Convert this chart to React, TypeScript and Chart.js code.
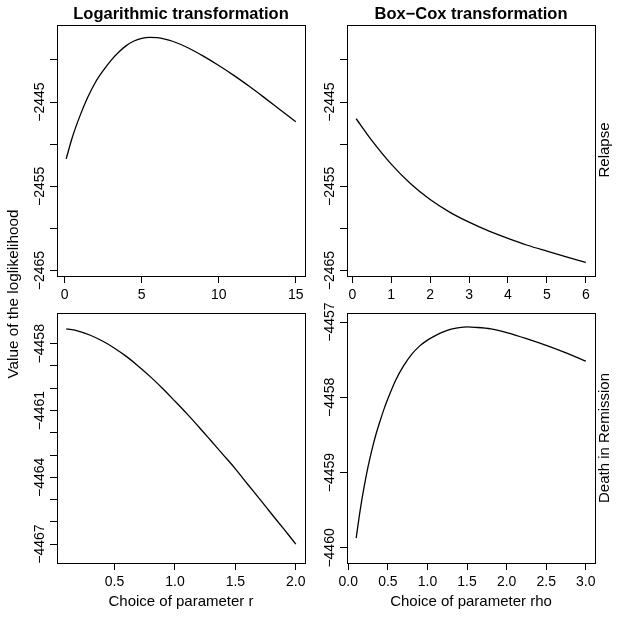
import React, { useEffect, useRef } from "react";
import { Chart, registerables } from "chart.js";

Chart.register(...registerables);

const FONT = "'Liberation Sans', Arial, Helvetica, sans-serif";
const W = 624;
const H = 619;

// ---- Data: Relapse, logarithmic transformation (parameter r) ----
const logRelapseR = [0.1, 0.5, 1, 1.5, 2, 2.5, 3, 3.5, 4, 4.5, 5, 5.5, 6, 6.5, 7, 8, 9, 10, 11, 12, 13, 14, 15];
const logRelapseLL = [
  -2451.75, -2449.18, -2446.61, -2444.43, -2442.65, -2441.27, -2440.08, -2439.09, -2438.3, -2437.75,
  -2437.45, -2437.33, -2437.36, -2437.52, -2437.78, -2438.55, -2439.55, -2440.66, -2441.86, -2443.16,
  -2444.53, -2445.93, -2447.33,
];

// ---- Data: Relapse, Box-Cox transformation (parameter rho) ----
const bcRelapseRho = [0.1, 0.5, 1, 1.5, 2, 2.5, 3, 3.5, 4, 4.5, 5, 5.5, 6];
const bcRelapseLL = [
  -2446.98, -2449.55, -2452.36, -2454.69, -2456.57, -2458.06, -2459.26, -2460.3, -2461.19, -2462.0,
  -2462.7, -2463.38, -2464.04,
];

// ---- Data: Death in Remission, logarithmic transformation (parameter r) ----
const logDeathR = [0.1, 0.2, 0.3, 0.4, 0.5, 0.6, 0.7, 0.8, 0.9, 1.0, 1.1, 1.2, 1.3, 1.4, 1.5, 1.6, 1.7, 1.8, 1.9, 2.0];
const logDeathLL = [
  -4457.33, -4457.43, -4457.62, -4457.88, -4458.2, -4458.58, -4459.02, -4459.5, -4460.02, -4460.58,
  -4461.15, -4461.75, -4462.37, -4462.99, -4463.62, -4464.3, -4464.97, -4465.65, -4466.32, -4467.0,
];

// ---- Data: Death in Remission, Box-Cox transformation (parameter rho) ----
const bcDeathRho = [
  0.1, 0.15, 0.2, 0.25, 0.3, 0.35, 0.4, 0.45, 0.5, 0.6, 0.7, 0.8, 0.9, 1.0, 1.1, 1.2, 1.3, 1.4, 1.5, 1.6,
  1.8, 2.0, 2.25, 2.5, 2.75, 3.0,
];
const bcDeathLL = [
  -4459.87, -4459.5, -4459.19, -4458.92, -4458.69, -4458.49, -4458.32, -4458.16, -4458.02, -4457.77,
  -4457.58, -4457.43, -4457.32, -4457.24, -4457.18, -4457.13, -4457.095, -4457.075, -4457.065, -4457.07,
  -4457.09, -4457.14, -4457.22, -4457.31, -4457.41, -4457.52,
];

// ---- Ticks ----
const xTicksLogRelapse = [0, 5, 10, 15];
const xTicksBcRelapse = [0, 1, 2, 3, 4, 5, 6];
const xTicksLogDeath = [0.5, 1.0, 1.5, 2.0];
const xTicksBcDeath = [0, 0.5, 1.0, 1.5, 2.0, 2.5, 3.0];

const yTicksRelapse = [-2440, -2445, -2450, -2455, -2460, -2465];
const yLabelsRelapse = [-2445, -2455, -2465];
const yTicksLogDeath = [-4458, -4459, -4460, -4461, -4462, -4463, -4464, -4465, -4466, -4467];
const yLabelsLogDeath = [-4458, -4461, -4464, -4467];
const yTicksBcDeath = [-4457, -4458, -4459, -4460];
const yLabelsBcDeath = [-4457, -4458, -4459, -4460];

// ---- Outer texts ----
const colTitles = ["Logarithmic transformation", "Box\u2212Cox transformation"];
const rowTitles = ["Relapse", "Death in Remission"];
const yTitle = "Value of the loglikelihood";

type Area = { left: number; top: number; right: number; bottom: number };

type PanelProps = {
  xs: number[];
  ys: number[];
  xTicks: number[];
  xDecimals: number;
  yTicks: number[];
  yLabels: number[];
  xMin: number;
  xMax: number;
  yMin: number;
  yMax: number;
  xTitle?: string;
  area: Area;
  outer?: boolean;
};

const fmtY = (v: number) => (v < 0 ? "\u2212" + Math.abs(v) : String(v));

const Y_AXIS_W = 40;

function drawText(ctx: CanvasRenderingContext2D, text: string, x: number, y: number, font: string, rotate: boolean) {
  ctx.save();
  ctx.font = font;
  ctx.fillStyle = "#000";
  ctx.textAlign = "center";
  ctx.textBaseline = "middle";
  ctx.translate(x, y);
  if (rotate) ctx.rotate(-Math.PI / 2);
  ctx.fillText(text, 0, 0);
  ctx.restore();
}

const outerPlugin = {
  id: "outerText",
  afterDraw(chart: any) {
    const ctx = chart.ctx as CanvasRenderingContext2D;
    drawText(ctx, colTitles[0], 181, 14, `bold 16.5px ${FONT}`, false);
    drawText(ctx, colTitles[1], 471, 14, `bold 16.5px ${FONT}`, false);
    drawText(ctx, yTitle, 14, 294, `15.3px ${FONT}`, true);
    drawText(ctx, rowTitles[0], 605, 150, `15px ${FONT}`, true);
    drawText(ctx, rowTitles[1], 605, 438, `15px ${FONT}`, true);
  },
};

function Panel(p: PanelProps) {
  const ref = useRef<HTMLCanvasElement | null>(null);
  useEffect(() => {
    if (!ref.current) return;
    const xAxisH = p.xTitle ? H - p.area.bottom : 40;
    const boxPlugin = {
      id: "rbox",
      afterDraw(chart: any) {
        const { ctx, chartArea: a } = chart;
        ctx.save();
        ctx.strokeStyle = "#000";
        ctx.lineWidth = 1;
        ctx.strokeRect(a.left + 0.5, a.top + 0.5, a.right - a.left, a.bottom - a.top);
        ctx.restore();
        const ys = chart.scales.y;
        for (const v of p.yLabels) {
          drawText(ctx, fmtY(v), a.left - 16.5, ys.getPixelForValue(v), `14px ${FONT}`, true);
        }
      },
    };
    const gridOpts = {
      drawOnChartArea: false,
      drawTicks: true,
      tickLength: 7,
      color: "#000",
      lineWidth: 1,
    };
    const plugins: any[] = [boxPlugin];
    if (p.outer) plugins.push(outerPlugin);
    const chart = new Chart(ref.current, {
      type: "line",
      data: {
        datasets: [
          {
            data: p.xs.map((x, i) => ({ x, y: p.ys[i] })),
            borderColor: "#000",
            borderWidth: 1.3,
            pointRadius: 0,
            fill: false,
            cubicInterpolationMode: "monotone",
          },
        ],
      },
      options: {
        responsive: false,
        animation: false,
        events: [],
        layout: {
          padding: {
            left: p.area.left - Y_AXIS_W,
            top: p.area.top,
            right: W - p.area.right,
            bottom: H - p.area.bottom - xAxisH,
          },
        },
        plugins: {
          legend: { display: false },
          tooltip: { enabled: false },
          title: { display: false },
        },
        scales: {
          x: {
            type: "linear",
            position: "bottom",
            min: p.xMin,
            max: p.xMax,
            afterBuildTicks: (s: any) => {
              s.ticks = p.xTicks.map((v) => ({ value: v }));
            },
            afterFit: (s: any) => {
              s.height = xAxisH;
            },
            grid: gridOpts,
            border: { display: true, color: "#000", width: 1 },
            ticks: {
              autoSkip: false,
              maxRotation: 0,
              minRotation: 0,
              padding: 3.6,
              color: "#000",
              font: { family: FONT, size: 14 },
              callback: (v: any) => Number(v).toFixed(p.xDecimals),
            },
            title: p.xTitle
              ? {
                  display: true,
                  text: p.xTitle,
                  color: "#000",
                  font: { family: FONT, size: 15 },
                  padding: { top: 0, bottom: 8 },
                }
              : { display: false },
          },
          y: {
            type: "linear",
            position: "left",
            min: p.yMin,
            max: p.yMax,
            afterBuildTicks: (s: any) => {
              s.ticks = p.yTicks.map((v) => ({ value: v }));
            },
            afterFit: (s: any) => {
              s.width = Y_AXIS_W;
            },
            grid: gridOpts,
            border: { display: true, color: "#000", width: 1 },
            ticks: { display: false },
          },
        },
      } as any,
      plugins,
    });
    return () => chart.destroy();
  }, []);
  return (
    <canvas
      ref={ref}
      width={W}
      height={H}
      style={{ position: "absolute", left: 0, top: 0, width: W, height: H, pointerEvents: "none" }}
    />
  );
}

export default function App() {
  return (
    <div style={{ position: "absolute", left: 0, top: 0, width: W, height: H, background: "#fff", overflow: "hidden" }}>
      <Panel
        xs={logRelapseR}
        ys={logRelapseLL}
        xTicks={xTicksLogRelapse}
        xDecimals={0}
        yTicks={yTicksRelapse}
        yLabels={yLabelsRelapse}
        xMin={-0.496}
        xMax={15.596}
        yMin={-2465.65}
        yMax={-2435.85}
        area={{ left: 57, top: 25, right: 305, bottom: 276 }}
        outer
      />
      <Panel
        xs={bcRelapseRho}
        ys={bcRelapseLL}
        xTicks={xTicksBcRelapse}
        xDecimals={0}
        yTicks={yTicksRelapse}
        yLabels={yLabelsRelapse}
        xMin={-0.136}
        xMax={6.236}
        yMin={-2465.65}
        yMax={-2435.85}
        area={{ left: 347, top: 25, right: 595, bottom: 276 }}
      />
      <Panel
        xs={logDeathR}
        ys={logDeathLL}
        xTicks={xTicksLogDeath}
        xDecimals={1}
        yTicks={yTicksLogDeath}
        yLabels={yLabelsLogDeath}
        xMin={0.024}
        xMax={2.076}
        yMin={-4467.85}
        yMax={-4456.62}
        xTitle="Choice of parameter r"
        area={{ left: 57, top: 313, right: 305, bottom: 563 }}
      />
      <Panel
        xs={bcDeathRho}
        ys={bcDeathLL}
        xTicks={xTicksBcDeath}
        xDecimals={1}
        yTicks={yTicksBcDeath}
        yLabels={yLabelsBcDeath}
        xMin={-0.016}
        xMax={3.116}
        yMin={-4460.2}
        yMax={-4456.88}
        xTitle="Choice of parameter rho"
        area={{ left: 347, top: 313, right: 595, bottom: 563 }}
      />
    </div>
  );
}
